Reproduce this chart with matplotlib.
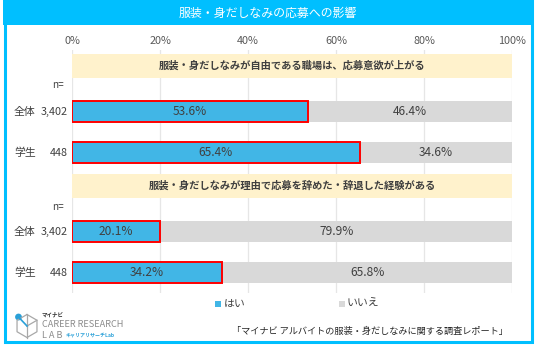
import matplotlib
matplotlib.use("Agg")
import matplotlib.pyplot as plt
import numpy as np
from matplotlib.patches import Rectangle, Circle

plt.rcParams['font.family'] = ['Noto Sans CJK JP', 'DejaVu Sans']

W, H = 536, 349

title = "服装・身だしなみの応募への影響"
sections = ["服装・身だしなみが自由である職場は、応募意欲が上がる",
            "服装・身だしなみが理由で応募を辞めた・辞退した経験がある"]
groups = ["全体", "学生"]
n_values = ["3,402", "448"]
yes_vals = [[53.6, 65.4], [20.1, 34.2]]
no_vals = [[46.4, 34.6], [79.9, 65.8]]
legend_labels = ["はい", "いいえ"]
xticks = [0, 20, 40, 60, 80, 100]
source = "「マイナビ アルバイトの服装・身だしなみに関する調査レポート」"

BLUE = "#41B6E6"
GRAY = "#D9D9D9"
RED = "#FF0000"
BEIGE = "#FFF2CC"
CYAN = "#00BFFF"
TXT = "#404040"

fig = plt.figure(figsize=(W / 100, H / 100), dpi=100)
fig.patch.set_facecolor("white")

def fx(x):
    return x / W

def fy(y):
    return 1 - y / H

# frame and title band
fig.patches.append(Rectangle((fx(4.5), fy(342)), fx(527), (342 - 1) / H,
                             transform=fig.transFigure, fill=False,
                             edgecolor=CYAN, linewidth=2.2, zorder=0))
fig.patches.append(Rectangle((fx(3), fy(25)), fx(530), 25 / H,
                             transform=fig.transFigure, facecolor=CYAN,
                             edgecolor="none", zorder=1))
fig.text(fx(268), fy(13.5), title, color="white", fontsize=8.6,
         ha="center", va="center")

# main axes in pixel-like y units
top, bottom = 50, 293
ax = fig.add_axes([fx(72), fy(bottom), fx(512 - 72), (bottom - top) / H])
ax.set_xlim(0, 100)
ax.set_ylim(bottom, top)
for s in ax.spines.values():
    s.set_visible(False)
ax.set_yticks([])
ax.xaxis.tick_top()
ax.set_xticks(xticks)
ax.set_xticklabels([f"{t}%" for t in xticks], fontsize=7.8, color="#595959")
ax.tick_params(axis="x", length=0, pad=3)
for t in xticks:
    ax.axvline(t, color="#E6E6E6", linewidth=0.9, zorder=0)

header_y = [66, 186]
bar_y = [[112, 153], [232, 272.5]]
n_label_y = [85, 207]
bh = 21

for si, sec in enumerate(sections):
    ax.add_patch(Rectangle((0, header_y[si] - 12), 100, 24, facecolor=BEIGE,
                           edgecolor="none", zorder=1))
    ax.text(50, header_y[si], sec, ha="center", va="center", fontsize=7.4,
            color=TXT, fontweight="bold", zorder=3)
    fig.text(fx(58), fy(n_label_y[si]), "n=", ha="center", va="center",
             fontsize=7.2, color=TXT)
    for gi, g in enumerate(groups):
        y = bar_y[si][gi]
        yv = yes_vals[si][gi]
        nv = no_vals[si][gi]
        ax.barh(y, nv, left=yv, height=bh, color=GRAY, edgecolor="none", zorder=2)
        ax.barh(y, yv, height=bh, color=BLUE, edgecolor=RED, linewidth=1.4, zorder=3)
        ax.text(yv / 2, y, f"{yv:.1f}%", ha="center", va="center",
                fontsize=8.6, color=TXT, zorder=4)
        ax.text(yv + nv / 2, y, f"{nv:.1f}%", ha="center", va="center",
                fontsize=8.6, color=TXT, zorder=4)
        fig.text(fx(14), fy(y), g, ha="left", va="center", fontsize=7.8, color=TXT)
        fig.text(fx(68), fy(y), n_values[gi], ha="right", va="center",
                 fontsize=7.8, color=TXT)

# legend
fig.patches.append(Rectangle((fx(215), fy(307)), fx(6), 6 / H,
                             transform=fig.transFigure, facecolor=BLUE,
                             edgecolor="none"))
fig.text(fx(224), fy(303.5), legend_labels[0], ha="left", va="center",
         fontsize=7.8, color=TXT)
fig.patches.append(Rectangle((fx(339), fy(307)), fx(6), 6 / H,
                             transform=fig.transFigure, facecolor=GRAY,
                             edgecolor="none"))
fig.text(fx(347), fy(303.5), legend_labels[1], ha="left", va="center",
         fontsize=7.8, color=TXT)

# logo (approximate) drawn in a small pixel-unit axes
lax = fig.add_axes([fx(12), fy(341), fx(28), 32 / H])
lax.set_xlim(12, 40)
lax.set_ylim(341, 309)
lax.axis("off")
cx, cy, r = 27, 326, 11.5
ang = np.deg2rad(np.arange(-90, 271, 60))
hx = cx + r * np.cos(ang)
hy = cy + r * np.sin(ang)
lax.plot(hx, hy, color="#A8A8A8", linewidth=0.9)
lax.plot([cx, cx], [cy, cy + r], color="#A8A8A8", linewidth=0.9)
lax.plot([cx, hx[0]], [cy, hy[0]], color="#A8A8A8", linewidth=0.9)
lax.plot([cx, cx + r * np.cos(np.deg2rad(-30))], [cy, cy + r * np.sin(np.deg2rad(-30))],
         color="#A8A8A8", linewidth=0.9)
lax.plot([18.5, cx], [317, cy], color="#2AA0D8", linewidth=1.2)
lax.add_patch(Circle((18.5, 317), 3.4, facecolor="#2AA0D8", edgecolor="none"))

fig.text(fx(42), fy(314.5), "マイナビ", ha="left", va="center", fontsize=4,
         color="#333333", fontweight="bold")
fig.text(fx(42), fy(324.5), "CAREER RESEARCH", ha="left", va="center",
         fontsize=6.6, color="#8C8C8C")
fig.text(fx(42), fy(335), "L A B", ha="left", va="center", fontsize=6.6,
         color="#8C8C8C")
fig.text(fx(66), fy(335), "キャリアリサーチLab", ha="left", va="center",
         fontsize=3.6, color="#2AA0D8", fontweight="bold")

fig.text(fx(508), fy(331), source, ha="right", va="center", fontsize=6.6,
         color="#262626")

fig.savefig("out.png", dpi=100)
